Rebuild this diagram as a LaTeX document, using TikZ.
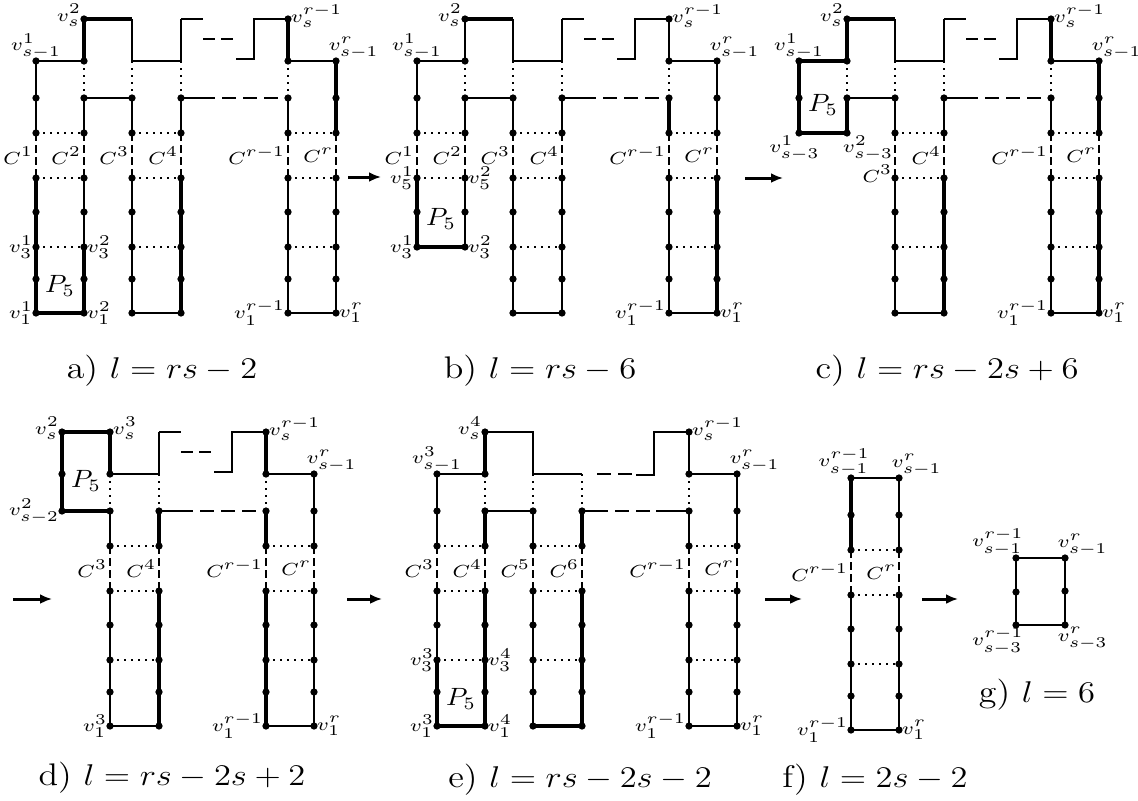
\documentclass[tikz,border=0pt]{standalone}
\usepackage{amsmath,amssymb}
\usetikzlibrary{calc}
\usetikzlibrary{arrows.meta}
\DeclareMathSizes{7}{7}{6}{5}

\tikzset{
  vtx/.style={circle, fill=black, inner sep=0pt, minimum size=2.9pt},
  thk/.style={line width=1.5pt},
  dotline/.style={line width=0.9pt, dash pattern=on 0.9pt off 1.9pt},
  cgap/.style={line width=0.8pt, dash pattern=on 3.2pt off 1.6pt},
  longdash/.style={line width=0.8pt, dash pattern=on 5.6pt off 2.8pt},
  sdash/.style={line width=0.8pt, dash pattern=on 4.8pt off 2.4pt},
  lab/.style={font=\fontsize{7}{8}\selectfont, inner sep=0.6pt, transform shape, xscale=1.15},
  captxt/.style={font=\fontsize{12.5}{14}\selectfont, transform shape, xscale=1.15},
  pfive/.style={font=\fontsize{10}{12}\selectfont, yshift=-2.8pt, transform shape, xscale=1.1},
  arr/.style={line width=1.2pt, -{Latex[length=4.8pt,width=4pt]}}
}

\begin{document}
\begin{tikzpicture}[x=0.4pt, y=-0.4pt, line width=0.8pt]
\useasboundingbox (0,0) rectangle (1138,800);

% grid points of the panels
\foreach \p/\dx/\dy in {a/0/0, b/381/0, c/763/0, d/-22/413, e/401/413, f/563/417} {
  \foreach \c/\cx in {1/36, 2/84, 3/132, 4/181, 5/288, 6/336} {
    \foreach \r/\ry in {s/19, s1/61, s2/98, s3/133, 5/178, 4/212, 3/247, 2/279, 1/313}
      \coordinate (\p\c-\r) at ({\cx+\dx},{\ry+\dy});
  }
}
\coordinate (g1-t) at (1016,558);
\coordinate (g1-m) at (1016,592);
\coordinate (g1-b) at (1016,625);
\coordinate (g2-t) at (1065,558);
\coordinate (g2-m) at (1065,591);
\coordinate (g2-b) at (1065,625);

% upper right staircase, the same in a-d
\foreach \p in {a,b,c,d} {
  \draw (\p5-s) -- ++(-34,0) -- ++(0,40) -- ++(-18,0);
  \draw[sdash] ($(\p4-s)+(22,20)$) -- ++(30,0);
  \draw (\p4-s2) -- ++(20,0);
  \draw[longdash] ($(\p4-s2)+(20,0)$) -- (\p5-s2);
  \draw (\p4-s) -- ++(22,0);
}

% panel a
\draw (a1-s1) -- (a1-s3);
\draw (a1-s1) -- (a2-s1);
\draw[thk] (a1-5) -- (a1-1) -- (a2-1) -- (a2-3);
\draw[thk] (a2-s) -- (a2-s1);
\draw (a2-s2) -- (a2-s3);
\draw (a2-5) -- (a2-3);
\draw (a2-s2) -- (a3-s2) -- (a3-s3);
\draw[thk] (a2-s) -- (a3-s);
\draw (a3-s) -- (a3-s1) -- (a4-s1) -- (a4-s);
\draw (a3-5) -- (a3-1) -- (a4-1);
\draw (a4-s2) -- (a4-s3);
\draw[thk] (a4-5) -- (a4-1);
\draw[thk] (a5-s) -- (a5-s1);
\draw (a5-s1) -- (a6-s1);
\draw[thk] (a6-s1) -- (a6-s3);
\draw (a5-s2) -- (a5-s3);
\draw (a5-5) -- (a5-1) -- (a6-1) -- (a6-5);
\foreach \u/\v in {a2-s1/a2-s2, a3-s1/a3-s2, a4-s1/a4-s2, a5-s1/a5-s2, a1-s3/a2-s3, a1-5/a2-5, a1-3/a2-3,
    a3-s3/a4-s3, a3-5/a4-5, a3-3/a4-3, a5-s3/a6-s3, a5-5/a6-5, a5-3/a6-3}
  \draw[dotline] (\u) -- (\v);
\foreach \v in {a1,a2,a3,a4,a5,a6}
  \draw[cgap] (\v-s3) -- (\v-5);

% panel b
\draw (b1-s1) -- (b1-s3);
\draw (b1-s1) -- (b2-s1);
\draw[thk] (b1-5) -- (b1-3) -- (b2-3);
\draw (b2-3) -- (b2-5);
\draw (b2-s) -- (b2-s1);
\draw (b2-s2) -- (b2-s3);
\draw (b2-s2) -- (b3-s2) -- (b3-s3);
\draw[thk] (b2-s) -- (b3-s);
\draw (b3-s) -- (b3-s1) -- (b4-s1) -- (b4-s);
\draw (b3-5) -- (b3-1) -- (b4-1) -- (b4-5);
\draw (b4-s2) -- (b4-s3);
\draw (b5-s) -- (b5-s1) -- (b6-s1) -- (b6-s3);
\draw[thk] (b5-s2) -- (b5-s3);
\draw (b5-5) -- (b5-1) -- (b6-1);
\draw[thk] (b6-1) -- (b6-5);
\foreach \u/\v in {b2-s1/b2-s2, b3-s1/b3-s2, b4-s1/b4-s2, b5-s1/b5-s2, b1-s3/b2-s3, b1-5/b2-5,
    b3-s3/b4-s3, b3-5/b4-5, b3-3/b4-3, b5-s3/b6-s3, b5-5/b6-5, b5-3/b6-3}
  \draw[dotline] (\u) -- (\v);
\foreach \v in {b1,b2,b3,b4,b5,b6}
  \draw[cgap] (\v-s3) -- (\v-5);

% panel c
\draw[thk] (c2-s) -- (c2-s1) -- (c1-s1) -- (c1-s3) -- (c2-s3) -- (c2-s2);
\draw[thk] (c2-s) -- (c3-s);
\draw (c3-s) -- (c3-s1) -- (c4-s1) -- (c4-s);
\draw (c2-s2) -- (c3-s2) -- (c3-s3);
\draw (c3-5) -- (c3-1) -- (c4-1);
\draw (c4-s2) -- (c4-s3);
\draw[thk] (c4-5) -- (c4-1);
\draw[thk] (c5-s) -- (c5-s1);
\draw (c5-s1) -- (c6-s1);
\draw[thk] (c6-s1) -- (c6-s3);
\draw (c5-s2) -- (c5-s3);
\draw (c5-5) -- (c5-1) -- (c6-1);
\draw[thk] (c6-1) -- (c6-5);
\foreach \u/\v in {c2-s1/c2-s2, c3-s1/c3-s2, c4-s1/c4-s2, c5-s1/c5-s2,
    c3-s3/c4-s3, c3-5/c4-5, c3-3/c4-3, c5-s3/c6-s3, c5-5/c6-5, c5-3/c6-3}
  \draw[dotline] (\u) -- (\v);
\foreach \v in {c3,c4,c5,c6}
  \draw[cgap] (\v-s3) -- (\v-5);

% panel d
\draw[thk] (d3-s) -- (d2-s) -- (d2-s2) -- (d3-s2);
\draw[thk] (d3-s) -- (d3-s1);
\draw (d3-s1) -- (d4-s1) -- (d4-s);
\draw (d3-s2) -- (d3-s3);
\draw (d3-5) -- (d3-1) -- (d4-1);
\draw[thk] (d4-s2) -- (d4-s3);
\draw[thk] (d4-5) -- (d4-1);
\draw[thk] (d5-s) -- (d5-s1);
\draw (d5-s1) -- (d6-s1) -- (d6-s3);
\draw[thk] (d5-s2) -- (d5-s3);
\draw[thk] (d5-5) -- (d5-1);
\draw (d5-1) -- (d6-1) -- (d6-5);
\foreach \u/\v in {d3-s1/d3-s2, d4-s1/d4-s2, d5-s1/d5-s2,
    d3-s3/d4-s3, d3-5/d4-5, d3-3/d4-3, d5-s3/d6-s3, d5-5/d6-5, d5-3/d6-3}
  \draw[dotline] (\u) -- (\v);
\foreach \v in {d3,d4,d5,d6}
  \draw[cgap] (\v-s3) -- (\v-5);

% panel e
\draw (e1-s1) -- (e1-s3);
\draw (e1-s1) -- (e2-s1);
\draw (e1-5) -- (e1-3);
\draw[thk] (e1-3) -- (e1-1) -- (e2-1);
\draw[thk] (e2-s) -- (e2-s1);
\draw[thk] (e2-s2) -- (e2-s3);
\draw[thk] (e2-5) -- (e2-1);
\draw (e2-s2) -- (e3-s2) -- (e3-s3);
\draw (e3-5) -- (e3-1);
\draw[thk] (e3-1) -- (e4-1) -- (e4-5);
\draw[thk] (e4-s2) -- (e4-s3);
\draw (e2-s) -- (e3-s) -- (e3-s1) -- (e4-s1);
\draw[longdash] ($(e4-s1)+(15,0)$) -- ++(40,0);
\draw (e5-s) -- ++(-35,0) -- ++(0,43) -- ++(-18,0);
\draw (e5-s) -- (e5-s1) -- (e6-s1) -- (e6-s3);
\draw (e5-s2) -- (e5-s3);
\draw (e5-5) -- (e5-1) -- (e6-1) -- (e6-5);
\draw (e4-s2) -- ++(12,0);
\draw[longdash] ($(e4-s2)+(12,0)$) -- ($(e5-s2)+(-33,0)$);
\draw ($(e5-s2)+(-33,0)$) -- (e5-s2);
\foreach \u/\v in {e2-s1/e2-s2, e3-s1/e3-s2, e4-s1/e4-s2, e5-s1/e5-s2, e1-s3/e2-s3, e1-5/e2-5, e1-3/e2-3,
    e3-s3/e4-s3, e3-5/e4-5, e3-3/e4-3, e5-s3/e6-s3, e5-5/e6-5, e5-3/e6-3}
  \draw[dotline] (\u) -- (\v);
\foreach \v in {e1,e2,e3,e4,e5,e6}
  \draw[cgap] (\v-s3) -- (\v-5);

% panel f
\draw[thk] (f5-s1) -- (f5-s3);
\draw (f5-s1) -- (f6-s1) -- (f6-s3);
\draw (f5-5) -- (f5-1) -- (f6-1) -- (f6-5);
\foreach \u/\v in {f5-s3/f6-s3, f5-5/f6-5, f5-3/f6-3}
  \draw[dotline] (\u) -- (\v);
\foreach \v in {f5,f6}
  \draw[cgap] (\v-s3) -- (\v-5);

% panel g
\draw (g2-b) -- (g2-m) -- (g2-t) -- (g1-t) -- (g1-m) -- (g1-b);
\draw[line width=1.1pt] (g1-b) -- (g2-b);

% vertices
\foreach \v/\rows in {a1/{s1,s2,s3,5,4,3,2,1}, a2/{s,s1,s2,s3,5,4,3,2,1}, a3/{s2,s3,5,4,3,2,1},
    a4/{s2,s3,5,4,3,2,1}, a5/{s,s1,s2,s3,5,4,3,2,1}, a6/{s1,s2,s3,5,4,3,2,1},
    b1/{s1,s2,s3,5,4,3}, b2/{s,s1,s2,s3,5,4,3}, b3/{s2,s3,5,4,3,2,1},
    b4/{s2,s3,5,4,3,2,1}, b5/{s,s1,s2,s3,5,4,3,2,1}, b6/{s1,s2,s3,5,4,3,2,1},
    c1/{s1,s2,s3}, c2/{s,s1,s2,s3}, c3/{s2,s3,5,4,3,2,1},
    c4/{s2,s3,5,4,3,2,1}, c5/{s,s1,s2,s3,5,4,3,2,1}, c6/{s1,s2,s3,5,4,3,2,1},
    d2/{s,s1,s2}, d3/{s,s1,s2,s3,5,4,3,2,1},
    d4/{s2,s3,5,4,3,2,1}, d5/{s,s1,s2,s3,5,4,3,2,1}, d6/{s1,s2,s3,5,4,3,2,1},
    e1/{s1,s2,s3,5,4,3,2,1}, e2/{s,s1,s2,s3,5,4,3,2,1}, e3/{s2,s3,5,4,3,2,1},
    e4/{s2,s3,5,4,3,2,1}, e5/{s,s1,s2,s3,5,4,3,2,1}, e6/{s1,s2,s3,5,4,3,2,1},
    f5/{s1,s2,s3,5,4,3,2,1}, f6/{s1,s2,s3,5,4,3,2,1}, g1/{t,m,b}, g2/{t,m,b}} {
  \foreach \r in \rows
    \node[vtx] at (\v-\r) {};
}

% cycle labels
\foreach \v/\t in {a1/1, a2/2, a3/3, a4/4, a5/{r-1}, a6/r, b1/1, b2/2, b3/3, b4/4, b5/{r-1}, b6/r,
    c4/4, c5/{r-1}, c6/r, d3/3, d4/4, d5/{r-1}, d6/r, e1/3, e2/4, e3/5, e4/6, e5/{r-1}, e6/r,
    f5/{r-1}, f6/r}
  \node[lab, left] at ($(\v-s3)!.5!(\v-5)$) {$C^{\t}$};
\node[lab, left, yshift=-7.2pt] at ($(c3-s3)!.5!(c3-5)$) {$C^3$};

% vertex labels
\node[lab, left, yshift=1.6pt] at (a2-s) {$v_s^2$};
\node[lab, above] at (a1-s1) {$v_{s-1}^1$};
\node[lab, right, yshift=1.2pt] at (a5-s) {$v_s^{r-1}$};
\node[lab, above right, xshift=-3.6pt] at (a6-s1) {$v_{s-1}^r$};
\node[lab, left] at (a1-3) {$v_3^1$};
\node[lab, right] at (a2-3) {$v_3^2$};
\node[lab, left] at (a1-1) {$v_1^1$};
\node[lab, right] at (a2-1) {$v_1^2$};
\node[lab, left] at (a5-1) {$v_1^{r-1}$};
\node[lab, right] at (a6-1) {$v_1^r$};
\node[pfive] at ($(a1-2)!.5!(a2-2)$) {$P_5$};

\node[lab, left, yshift=1.6pt] at (b2-s) {$v_s^2$};
\node[lab, above] at (b1-s1) {$v_{s-1}^1$};
\node[lab, right, yshift=1.2pt] at (b5-s) {$v_s^{r-1}$};
\node[lab, above right, xshift=-3.6pt] at (b6-s1) {$v_{s-1}^r$};
\node[lab, left] at (b1-5) {$v_5^1$};
\node[lab, right] at (b2-5) {$v_5^2$};
\node[lab, left] at (b1-3) {$v_3^1$};
\node[lab, right] at (b2-3) {$v_3^2$};
\node[lab, left] at (b5-1) {$v_1^{r-1}$};
\node[lab, right] at (b6-1) {$v_1^r$};
\node[pfive] at ($(b1-4)!.5!(b2-4)$) {$P_5$};

\node[lab, left, yshift=1.6pt] at (c2-s) {$v_s^2$};
\node[lab, above] at (c1-s1) {$v_{s-1}^1$};
\node[lab, below, xshift=-1.6pt] at (c1-s3) {$v_{s-3}^1$};
\node[lab, below right, xshift=-2.4pt] at (c2-s3) {$v_{s-3}^2$};
\node[lab, right, yshift=1.2pt] at (c5-s) {$v_s^{r-1}$};
\node[lab, above right, xshift=-3.6pt] at (c6-s1) {$v_{s-1}^r$};
\node[lab, left] at (c5-1) {$v_1^{r-1}$};
\node[lab, right] at (c6-1) {$v_1^r$};
\node[pfive] at ($(c1-s2)!.5!(c2-s2)$) {$P_5$};

\node[lab, left, yshift=1.6pt] at (d2-s) {$v_s^2$};
\node[lab, right, yshift=1.6pt] at (d3-s) {$v_s^3$};
\node[lab, left] at (d2-s2) {$v_{s-2}^2$};
\node[lab, right, yshift=1.2pt] at (d5-s) {$v_s^{r-1}$};
\node[lab, above right, xshift=-3.6pt] at (d6-s1) {$v_{s-1}^r$};
\node[lab, left] at (d3-1) {$v_1^3$};
\node[lab, left] at (d5-1) {$v_1^{r-1}$};
\node[lab, right] at (d6-1) {$v_1^r$};
\node[pfive] at ($(d2-s1)!.5!(d3-s1)$) {$P_5$};

\node[lab, left, yshift=1.6pt] at (e2-s) {$v_s^4$};
\node[lab, above] at (e1-s1) {$v_{s-1}^3$};
\node[lab, right, yshift=1.2pt] at (e5-s) {$v_s^{r-1}$};
\node[lab, above right, xshift=-3.6pt] at (e6-s1) {$v_{s-1}^r$};
\node[lab, left] at (e1-3) {$v_3^3$};
\node[lab, right] at (e2-3) {$v_3^4$};
\node[lab, left] at (e1-1) {$v_1^3$};
\node[lab, right] at (e2-1) {$v_1^4$};
\node[lab, left] at (e5-1) {$v_1^{r-1}$};
\node[lab, right] at (e6-1) {$v_1^r$};
\node[pfive] at ($(e1-2)!.5!(e2-2)$) {$P_5$};

\node[lab, above, xshift=-2.4pt] at (f5-s1) {$v_{s-1}^{r-1}$};
\node[lab, above right, xshift=-3.6pt] at (f6-s1) {$v_{s-1}^r$};
\node[lab, left] at (f5-1) {$v_1^{r-1}$};
\node[lab, right] at (f6-1) {$v_1^r$};

\node[lab, above left, xshift=3.6pt] at (g1-t) {$v_{s-1}^{r-1}$};
\node[lab, above right, xshift=-3.6pt] at (g2-t) {$v_{s-1}^r$};
\node[lab, below left, xshift=3.6pt] at (g1-b) {$v_{s-3}^{r-1}$};
\node[lab, below right, xshift=-3.6pt] at (g2-b) {$v_{s-3}^r$};

% arrows between the steps
\coordinate (ab1) at (348,177);  \coordinate (ab2) at (381,177);
\coordinate (bc1) at (745,178);  \coordinate (bc2) at (783,178);
\coordinate (cd1) at (13,599);   \coordinate (cd2) at (52,599);
\coordinate (de1) at (347,599);  \coordinate (de2) at (382,599);
\coordinate (ef1) at (765,599);  \coordinate (ef2) at (802,599);
\coordinate (fg1) at (922,599);  \coordinate (fg2) at (958,599);
\foreach \u/\v in {ab1/ab2, bc1/bc2, cd1/cd2, de1/de2, ef1/ef2, fg1/fg2}
  \draw[arr] (\u) -- (\v);

% captions
\node[captxt] (capa) at (162,371) {a) $l=rs-2$};
\node[captxt] (capb) at (540,371) {b) $l=rs-6$};
\node[captxt] (capc) at (947,371) {c) $l=rs-2s+6$};
\node[captxt] (capd) at (172,778) {d) $l=rs-2s+2$};
\node[captxt] (cape) at (580,780) {e) $l=rs-2s-2$};
\node[captxt] (capf) at (875,780) {f) $l=2s-2$};
\node[captxt] (capg) at (1037,695) {g) $l=6$};
\end{tikzpicture}
\end{document}
